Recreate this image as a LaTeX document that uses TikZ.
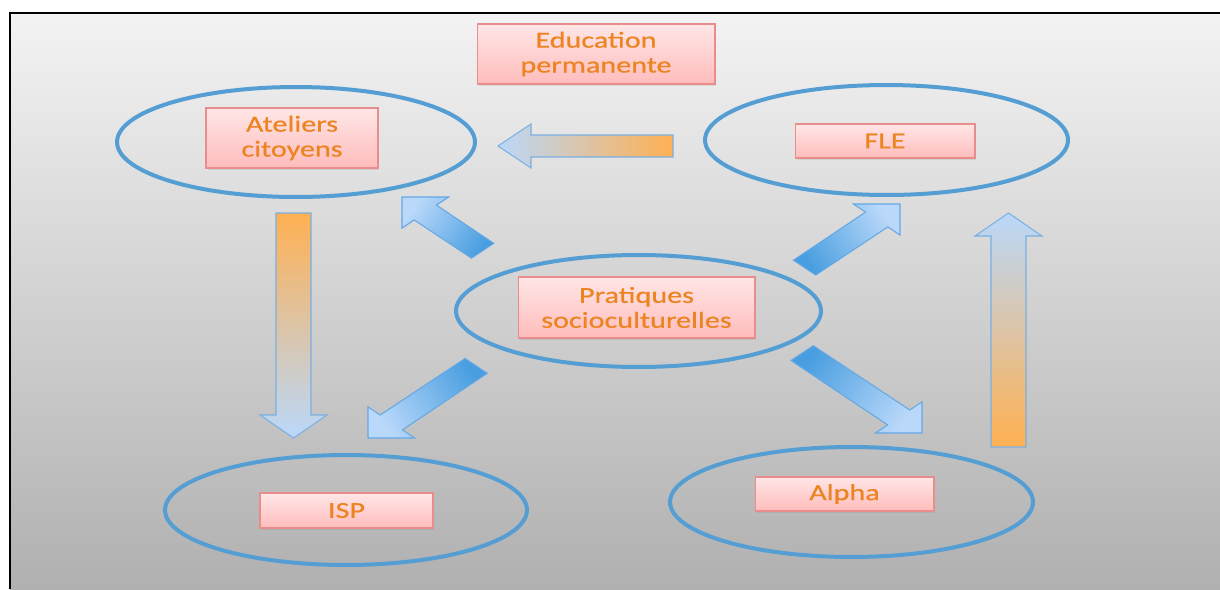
\documentclass[tikz,border=0pt]{standalone}
\usepackage{fontspec}
\newfontfamily\boxfont[FakeStretch=1.32,FakeBold=0.6]{Carlito}
\usetikzlibrary{shapes.geometric,shadows}
\definecolor{bgtop}{RGB}{243,243,243}
\definecolor{bgmid}{RGB}{214,214,214}
\definecolor{bgbot}{RGB}{176,176,176}
\definecolor{ellcol}{RGB}{84,158,212}
\definecolor{boxtop}{RGB}{255,230,230}
\definecolor{boxbot}{RGB}{255,188,188}
\definecolor{boxline}{RGB}{232,140,140}
\definecolor{txt}{RGB}{236,132,34}
\definecolor{orng}{RGB}{255,176,82}
\definecolor{lblue}{RGB}{186,216,250}
\definecolor{arrline}{RGB}{122,176,226}
\definecolor{dblue}{RGB}{72,158,224}
\definecolor{dline}{RGB}{100,168,228}
% tip x, tip y, angle, length, shading angle
\newcommand\diagarrow[5]{%
  \begin{scope}[shift={(#1,#2)}, xscale=1.5, rotate=#3]
    \shade[diagarr, shading angle=#5] (0,0) -- (-22,22) -- (-22,10.5) -- (-#4,10.5) -- (-#4,-10.5) -- (-22,-10.5) -- (-22,-22) -- cycle;
  \end{scope}}
\begin{document}
\begin{tikzpicture}[x=0.02cm,y=-0.02cm,
  ell/.style={ellipse, draw=ellcol, line width=0.08cm, inner sep=0pt},
  box/.style={draw=boxline, line width=0.6pt, top color=boxtop, bottom color=boxbot,
    text=txt, font=\boxfont\fontsize{13pt}{14.2pt}\selectfont, align=center, inner sep=0pt,
    drop shadow={opacity=0.18, shadow xshift=0.03cm, shadow yshift=-0.04cm}},
  gradarr/.style={draw=arrline, line width=0.6pt},
  diagarr/.style={draw=dline, line width=0.6pt, shading=axis, top color=dblue, bottom color=lblue}]
\useasboundingbox (0,0) rectangle (1220,589);
% background
\shade[top color=bgtop, middle color=bgmid, bottom color=bgbot] (10,13) rectangle (1220,589);
\draw[line width=0.04cm] (10.3,589) -- (10.3,13.3) -- (1220,13.3);
% ellipses
\node[ell, minimum width=7.16cm, minimum height=2.2cm] (eat) at (296,142) {};
\node[ell, minimum width=7.26cm, minimum height=2.2cm] (efle) at (886.5,140) {};
\node[ell, minimum width=7.3cm, minimum height=2.24cm] (epra) at (638.5,311) {};
\node[ell, minimum width=7.24cm, minimum height=2.2cm] (eisp) at (346,510) {};
\node[ell, minimum width=7.26cm, minimum height=2.2cm] (ealp) at (851.5,502) {};
% boxes
\node[box, minimum width=4.76cm, minimum height=1.2cm] (ed) at (596,54) {Education\\permanente};
\node[box, minimum width=3.44cm, minimum height=1.2cm] (at) at (292,138) {Ateliers\\citoyens};
\node[box, minimum width=3.6cm, minimum height=0.68cm] (fle) at (885,141) {FLE};
\node[box, minimum width=4.74cm, minimum height=1.22cm] (pra) at (636.5,307.5) {Pratiques\\socioculturelles};
\node[box, minimum width=3.46cm, minimum height=0.7cm] (isp) at (346.5,510.5) {ISP};
\node[box, minimum width=3.58cm, minimum height=0.68cm] (alp) at (844.5,494) {Alpha};
% gradient block arrows
\shade[gradarr, left color=lblue, right color=orng]
  (673,135) -- (531,135) -- (531,124) -- (498,146) -- (531,168) -- (531,157) -- (673,157) -- cycle;
\shade[gradarr, top color=orng, bottom color=lblue]
  (276,213) -- (311,213) -- (311,415) -- (327,415) -- (293.5,438) -- (260,415) -- (276,415) -- cycle;
\shade[gradarr, top color=lblue, bottom color=orng]
  (991,447) -- (1026,447) -- (1026,236) -- (1042,236) -- (1008.5,213) -- (975,236) -- (991,236) -- cycle;
% diagonal arrows
\diagarrow{900}{204}{45}{90}{123.5}
\diagarrow{402}{197}{135}{76}{236.3}
\diagarrow{368}{438}{225}{102}{-56.3}
\diagarrow{922}{433}{-45}{113}{56.3}
\end{tikzpicture}
\end{document}
